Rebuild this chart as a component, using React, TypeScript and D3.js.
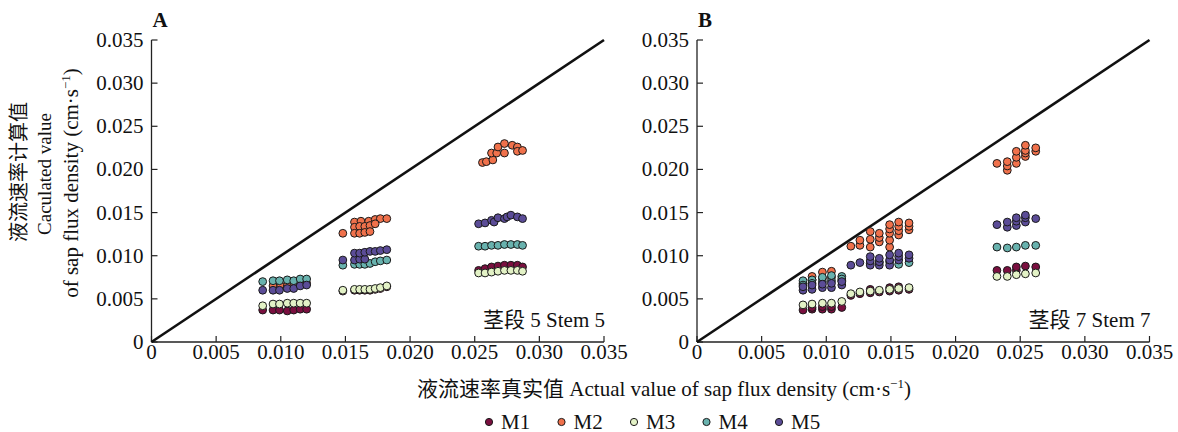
import React from 'react';
import * as d3 from 'd3';

type P = [number, number];

const seriesNames = ['M1', 'M2', 'M3', 'M4', 'M5'];
const seriesColors = ['#7a0f3f', '#f0714b', '#e3f2c6', '#68b2ae', '#5b4c97'];
const tickValues = [0, 0.005, 0.01, 0.015, 0.02, 0.025, 0.03, 0.035];
const tickLabels = ['0', '0.005', '0.010', '0.015', '0.020', '0.025', '0.030', '0.035'];
const panelLabels = ['A', 'B'];
const stemLabels = ['茎段 5 Stem 5', '茎段 7 Stem 7'];

// Panel A – stem 5
const stem5M1: P[] = [
  [0.0086, 0.0037], [0.0094, 0.0037], [0.0099, 0.0037], [0.0105, 0.0036], [0.0110, 0.0037], [0.0115, 0.0038], [0.0120, 0.0038],
  [0.0148, 0.0059], [0.0157, 0.0060], [0.0161, 0.0060], [0.0165, 0.0060], [0.0169, 0.0060], [0.0173, 0.0061], [0.0177, 0.0062], [0.0182, 0.0064],
  [0.0253, 0.0083], [0.0258, 0.0085], [0.0263, 0.0087], [0.0268, 0.0088], [0.0273, 0.0089], [0.0278, 0.0089], [0.0283, 0.0089], [0.0287, 0.0087],
];
const stem5M2: P[] = [
  [0.0094, 0.0065], [0.0100, 0.0065], [0.0105, 0.0065], [0.0110, 0.0065], [0.0115, 0.0067], [0.0120, 0.0068],
  [0.0148, 0.0126], [0.0157, 0.0139], [0.0162, 0.0140], [0.0168, 0.0140], [0.0173, 0.0142], [0.0177, 0.0143], [0.0182, 0.0143],
  [0.0157, 0.0133], [0.0161, 0.0134], [0.0165, 0.0134], [0.0169, 0.0135], [0.0173, 0.0137],
  [0.0157, 0.0126], [0.0161, 0.0126], [0.0165, 0.0127], [0.0169, 0.0128],
  [0.0256, 0.0208], [0.0259, 0.0209], [0.0264, 0.0211], [0.0263, 0.0219], [0.0267, 0.0219], [0.0268, 0.0226],
  [0.0273, 0.0230], [0.0273, 0.0219], [0.0279, 0.0228], [0.0283, 0.0226], [0.0283, 0.0221], [0.0287, 0.0222],
];
const stem5M3: P[] = [
  [0.0086, 0.0042], [0.0094, 0.0044], [0.0099, 0.0044], [0.0105, 0.0045], [0.0110, 0.0045], [0.0115, 0.0045], [0.0120, 0.0045],
  [0.0148, 0.0060], [0.0157, 0.0061], [0.0161, 0.0061], [0.0165, 0.0061], [0.0169, 0.0061], [0.0173, 0.0062], [0.0177, 0.0063], [0.0182, 0.0065],
  [0.0253, 0.0080], [0.0258, 0.0080], [0.0263, 0.0081], [0.0268, 0.0082], [0.0273, 0.0083], [0.0278, 0.0083], [0.0283, 0.0083], [0.0287, 0.0082],
];
const stem5M4: P[] = [
  [0.0086, 0.0070], [0.0094, 0.0071], [0.0099, 0.0071], [0.0105, 0.0072], [0.0110, 0.0071], [0.0115, 0.0073], [0.0120, 0.0073],
  [0.0148, 0.0089], [0.0157, 0.0090], [0.0161, 0.0090], [0.0165, 0.0090], [0.0169, 0.0091], [0.0173, 0.0093], [0.0177, 0.0094], [0.0182, 0.0095],
  [0.0253, 0.0111], [0.0258, 0.0111], [0.0263, 0.0112], [0.0268, 0.0112], [0.0273, 0.0113], [0.0278, 0.0113], [0.0283, 0.0113], [0.0287, 0.0112],
];
const stem5M5: P[] = [
  [0.0086, 0.0060], [0.0094, 0.0060], [0.0099, 0.0060], [0.0105, 0.0062], [0.0110, 0.0062], [0.0115, 0.0065], [0.0120, 0.0066],
  [0.0148, 0.0095], [0.0157, 0.0095], [0.0161, 0.0096], [0.0165, 0.0096],
  [0.0157, 0.0103], [0.0161, 0.0103], [0.0165, 0.0104], [0.0169, 0.0105], [0.0173, 0.0105], [0.0177, 0.0106], [0.0182, 0.0107],
  [0.0253, 0.0137], [0.0258, 0.0138], [0.0263, 0.0141], [0.0265, 0.0139], [0.0268, 0.0144], [0.0273, 0.0143],
  [0.0275, 0.0145], [0.0278, 0.0147], [0.0283, 0.0145], [0.0287, 0.0143],
];

// Panel B – stem 7
const stem7M1: P[] = [
  [0.0082, 0.0037], [0.0089, 0.0038], [0.0097, 0.0038], [0.0104, 0.0038], [0.0112, 0.0040], [0.0089, 0.0040], [0.0097, 0.0041], [0.0104, 0.0041],
  [0.0119, 0.0054], [0.0126, 0.0056], [0.0134, 0.0057], [0.0134, 0.0061], [0.0141, 0.0058], [0.0149, 0.0059], [0.0149, 0.0063], [0.0156, 0.0060], [0.0156, 0.0064], [0.0164, 0.0061],
  [0.0232, 0.0083], [0.0240, 0.0083], [0.0247, 0.0083], [0.0247, 0.0087], [0.0254, 0.0088], [0.0262, 0.0087],
];
const stem7M2: P[] = [
  [0.0082, 0.0068], [0.0089, 0.0072], [0.0089, 0.0076], [0.0097, 0.0074], [0.0097, 0.0081], [0.0104, 0.0075], [0.0104, 0.0082], [0.0112, 0.0071],
  [0.0119, 0.0111], [0.0126, 0.0112], [0.0126, 0.0118], [0.0134, 0.0110], [0.0134, 0.0119], [0.0134, 0.0128],
  [0.0141, 0.0116], [0.0141, 0.0121], [0.0141, 0.0126], [0.0149, 0.0110], [0.0149, 0.0118], [0.0149, 0.0126], [0.0149, 0.0131], [0.0149, 0.0136],
  [0.0156, 0.0124], [0.0156, 0.0129], [0.0156, 0.0134], [0.0156, 0.0139], [0.0164, 0.0130], [0.0164, 0.0134], [0.0164, 0.0138],
  [0.0232, 0.0207], [0.0240, 0.0199], [0.0240, 0.0204], [0.0240, 0.0209], [0.0247, 0.0207], [0.0247, 0.0214], [0.0247, 0.0221],
  [0.0254, 0.0215], [0.0254, 0.0219], [0.0254, 0.0222], [0.0254, 0.0228], [0.0262, 0.0221], [0.0262, 0.0225],
];
const stem7M3: P[] = [
  [0.0082, 0.0043], [0.0089, 0.0044], [0.0097, 0.0045], [0.0104, 0.0045], [0.0112, 0.0047],
  [0.0119, 0.0056], [0.0126, 0.0058], [0.0134, 0.0059], [0.0141, 0.0060], [0.0149, 0.0061], [0.0156, 0.0062], [0.0164, 0.0063],
  [0.0232, 0.0076], [0.0240, 0.0076], [0.0247, 0.0078], [0.0254, 0.0079], [0.0262, 0.0080],
];
const stem7M4: P[] = [
  [0.0082, 0.0071], [0.0082, 0.0066], [0.0089, 0.0072], [0.0089, 0.0068], [0.0097, 0.0070], [0.0097, 0.0075],
  [0.0104, 0.0071], [0.0104, 0.0077], [0.0112, 0.0076], [0.0112, 0.0073],
  [0.0134, 0.0091], [0.0141, 0.0092], [0.0149, 0.0093], [0.0156, 0.0090], [0.0164, 0.0092],
  [0.0232, 0.0110], [0.0240, 0.0109], [0.0247, 0.0110], [0.0254, 0.0112], [0.0262, 0.0112],
];
const stem7M5: P[] = [
  [0.0082, 0.0060], [0.0082, 0.0064], [0.0089, 0.0061], [0.0089, 0.0066], [0.0097, 0.0063], [0.0097, 0.0067],
  [0.0104, 0.0063], [0.0104, 0.0068], [0.0112, 0.0066], [0.0112, 0.0070],
  [0.0119, 0.0089], [0.0126, 0.0092], [0.0134, 0.0089], [0.0134, 0.0094], [0.0134, 0.0099], [0.0141, 0.0089], [0.0141, 0.0093], [0.0141, 0.0097],
  [0.0149, 0.0089], [0.0149, 0.0095], [0.0149, 0.0101], [0.0156, 0.0095], [0.0156, 0.0099], [0.0156, 0.0103], [0.0164, 0.0097], [0.0164, 0.0101],
  [0.0232, 0.0136], [0.0240, 0.0133], [0.0240, 0.0139], [0.0247, 0.0135], [0.0247, 0.0140], [0.0247, 0.0144],
  [0.0254, 0.0139], [0.0254, 0.0144], [0.0254, 0.0147], [0.0262, 0.0143],
];

const panelSeries: P[][][] = [
  [stem5M1, stem5M2, stem5M3, stem5M4, stem5M5],
  [stem7M1, stem7M2, stem7M3, stem7M4, stem7M5],
];

const FONT = "'Liberation Serif', 'Times New Roman', 'Noto Sans CJK SC', serif";
const W = 1178;
const H = 432;
const panelLefts = [151.5, 697];
const plotW = 452.5;
const plotTop = 40;
const plotBottom = 342;
const FS = 21;

function Panel({ idx }: { idx: number }) {
  const left = panelLefts[idx];
  const x = d3.scaleLinear().domain([0, 0.035]).range([left, left + plotW]);
  const y = d3.scaleLinear().domain([0, 0.035]).range([plotBottom, plotTop]);
  const series = panelSeries[idx];
  return (
    <g>
      <line x1={left} y1={plotBottom} x2={left + plotW} y2={plotBottom} stroke="#222" strokeWidth={1.3} />
      <line x1={left} y1={plotBottom} x2={left} y2={plotTop} stroke="#222" strokeWidth={1.3} />
      {tickValues.map((t, i) => (
        <g key={i}>
          <line x1={x(t)} x2={x(t)} y1={plotBottom} y2={plotBottom - 6} stroke="#222" strokeWidth={1.2} />
          <text x={x(t)} y={plotBottom + 17} textAnchor="middle" fontSize={FS}>{tickLabels[i]}</text>
          <line x1={left} x2={left + 6} y1={y(t)} y2={y(t)} stroke="#222" strokeWidth={1.2} />
          <text x={left - 8} y={y(t) + 7} textAnchor="end" fontSize={FS}>{tickLabels[i]}</text>
        </g>
      ))}
      <line x1={x(0)} y1={y(0)} x2={x(0.035)} y2={y(0.035)} stroke="#111" strokeWidth={2.6} />
      {series.map((pts, si) =>
        pts.map(([a, b], j) => (
          <circle key={si + '-' + j} cx={x(a)} cy={y(b)} r={3.9} fill={seriesColors[si]} stroke="#1a1a1a" strokeWidth={1} />
        ))
      )}
      <text x={left + 1} y={27} fontSize={FS} fontWeight="bold">{panelLabels[idx]}</text>
      <text x={left + plotW + 1} y={327} fontSize={FS} textAnchor="end">{stemLabels[idx]}</text>
    </g>
  );
}

export default function App() {
  const legendX0 = 489;
  const legendStep = 72.5;
  return (
    <svg width={W} height={H} style={{ position: 'absolute', left: 0, top: 0, background: '#fff' }} fontFamily={FONT} fill="#111">
      <rect x={0} y={0} width={W} height={H} fill="#fff" />
      <Panel idx={0} />
      <Panel idx={1} />
      <text transform="translate(26,172) rotate(-90)" textAnchor="middle" fontSize={20}>液流速率计算值</text>
      <text transform="translate(51,174) rotate(-90)" textAnchor="middle" fontSize={19}>Caculated value</text>
      <text transform="translate(78,183) rotate(-90)" textAnchor="middle" fontSize={FS}>
        of sap flux density (cm·s<tspan fontSize={13} dy={-8}>−1</tspan><tspan dy={8}>)</tspan>
      </text>
      <text x={664} y={396} textAnchor="middle" fontSize={FS}>
        液流速率真实值 Actual value of sap flux density (cm·s<tspan fontSize={13} dy={-8}>−1</tspan><tspan dy={8}>)</tspan>
      </text>
      {seriesNames.map((n, i) => (
        <g key={n}>
          <circle cx={legendX0 + i * legendStep} cy={422} r={3.6} fill={seriesColors[i]} stroke="#1a1a1a" strokeWidth={1} />
          <text x={legendX0 + i * legendStep + 12} y={428.5} fontSize={FS}>{n}</text>
        </g>
      ))}
    </svg>
  );
}
